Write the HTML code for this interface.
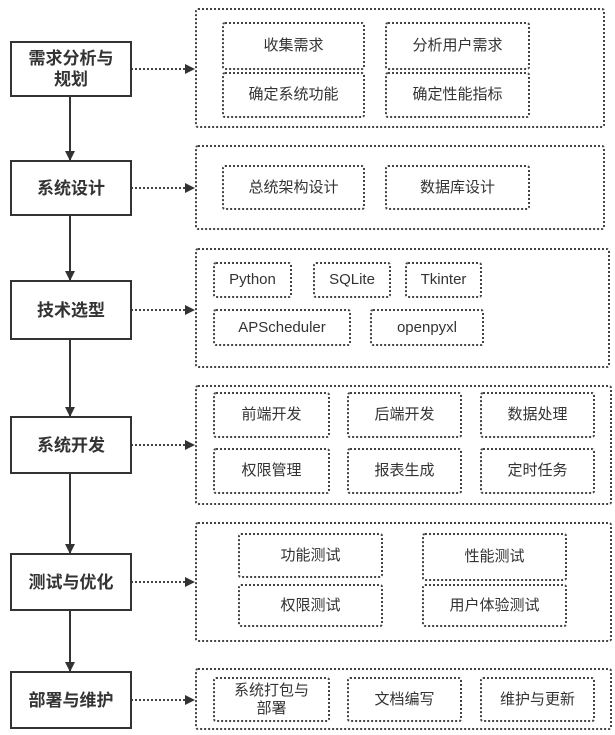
<!DOCTYPE html>
<html><head><meta charset="utf-8"><style>
body{margin:0;width:615px;height:735px;background:#fff;position:relative;overflow:hidden;font-family:"Liberation Sans","Noto Sans CJK SC",sans-serif;color:#333}
.b{position:absolute;border:2px solid #333;box-sizing:border-box;display:flex;align-items:center;justify-content:center;text-align:center;font-weight:bold;font-size:17px;line-height:21px}
.g{position:absolute;border:2px dotted #444;box-sizing:border-box;border-radius:3px}
.i{position:absolute;border:2px dotted #444;box-sizing:border-box;border-radius:3px;display:flex;align-items:center;justify-content:center;text-align:center;font-size:15px;line-height:18px;color:#333}
.t{font-size:15px}
svg{position:absolute;left:0;top:0}
</style></head><body>
<svg width="615" height="735">
<defs><marker id="a" markerWidth="10" markerHeight="10" refX="9" refY="5" orient="auto" markerUnits="userSpaceOnUse"><path d="M0,0 L10,5 L0,10z" fill="#333"/></marker></defs>
<g stroke="#333" stroke-width="2" fill="none">
<line x1="70" y1="96" x2="70" y2="160" marker-end="url(#a)"/>
<line x1="70" y1="215" x2="70" y2="280" marker-end="url(#a)"/>
<line x1="70" y1="340" x2="70" y2="416" marker-end="url(#a)"/>
<line x1="70" y1="474" x2="70" y2="553" marker-end="url(#a)"/>
<line x1="70" y1="611" x2="70" y2="671" marker-end="url(#a)"/>
</g>
<g stroke="#444" stroke-width="2" stroke-dasharray="2,2" fill="none">
<line x1="131" y1="69" x2="194" y2="69" marker-end="url(#a)"/>
<line x1="131" y1="188" x2="194" y2="188" marker-end="url(#a)"/>
<line x1="131" y1="310" x2="194" y2="310" marker-end="url(#a)"/>
<line x1="131" y1="445" x2="194" y2="445" marker-end="url(#a)"/>
<line x1="131" y1="582" x2="194" y2="582" marker-end="url(#a)"/>
<line x1="131" y1="700" x2="194" y2="700" marker-end="url(#a)"/>
</g>
</svg>
<div class="b" style="left:10px;top:41px;width:122px;height:56px">需求分析与<br>规划</div>
<div class="b" style="left:10px;top:160px;width:122px;height:56px">系统设计</div>
<div class="b" style="left:10px;top:280px;width:122px;height:60px">技术选型</div>
<div class="b" style="left:10px;top:416px;width:122px;height:58px">系统开发</div>
<div class="b" style="left:10px;top:553px;width:122px;height:58px">测试与优化</div>
<div class="b" style="left:10px;top:671px;width:122px;height:58px">部署与维护</div>

<div class="g" style="left:195px;top:8px;width:410px;height:120px"></div>
<div class="i" style="left:222px;top:22px;width:143px;height:48px">收集需求</div>
<div class="i" style="left:385px;top:22px;width:145px;height:48px">分析用户需求</div>
<div class="i" style="left:222px;top:72px;width:143px;height:46px">确定系统功能</div>
<div class="i" style="left:385px;top:72px;width:145px;height:46px">确定性能指标</div>

<div class="g" style="left:195px;top:145px;width:410px;height:85px"></div>
<div class="i" style="left:222px;top:165px;width:143px;height:45px">总统架构设计</div>
<div class="i" style="left:385px;top:165px;width:145px;height:45px">数据库设计</div>

<div class="g" style="left:195px;top:248px;width:415px;height:120px"></div>
<div class="i" style="left:213px;top:262px;width:79px;height:36px">Python</div>
<div class="i" style="left:313px;top:262px;width:78px;height:36px">SQLite</div>
<div class="i" style="left:405px;top:262px;width:77px;height:36px">Tkinter</div>
<div class="i" style="left:213px;top:309px;width:138px;height:37px">APScheduler</div>
<div class="i" style="left:370px;top:309px;width:114px;height:37px">openpyxl</div>

<div class="g" style="left:195px;top:385px;width:417px;height:120px"></div>
<div class="i" style="left:213px;top:392px;width:117px;height:46px">前端开发</div>
<div class="i" style="left:347px;top:392px;width:115px;height:46px">后端开发</div>
<div class="i" style="left:480px;top:392px;width:115px;height:46px">数据处理</div>
<div class="i" style="left:213px;top:448px;width:117px;height:46px">权限管理</div>
<div class="i" style="left:347px;top:448px;width:115px;height:46px">报表生成</div>
<div class="i" style="left:480px;top:448px;width:115px;height:46px">定时任务</div>

<div class="g" style="left:195px;top:522px;width:417px;height:120px"></div>
<div class="i" style="left:238px;top:533px;width:145px;height:45px">功能测试</div>
<div class="i" style="left:422px;top:533px;width:145px;height:48px">性能测试</div>
<div class="i" style="left:238px;top:584px;width:145px;height:43px">权限测试</div>
<div class="i" style="left:422px;top:584px;width:145px;height:43px">用户体验测试</div>

<div class="g" style="left:195px;top:668px;width:417px;height:62px"></div>
<div class="i" style="left:213px;top:677px;width:117px;height:45px">系统打包与<br>部署</div>
<div class="i" style="left:347px;top:677px;width:115px;height:45px">文档编写</div>
<div class="i" style="left:480px;top:677px;width:115px;height:45px">维护与更新</div>
</body></html>
